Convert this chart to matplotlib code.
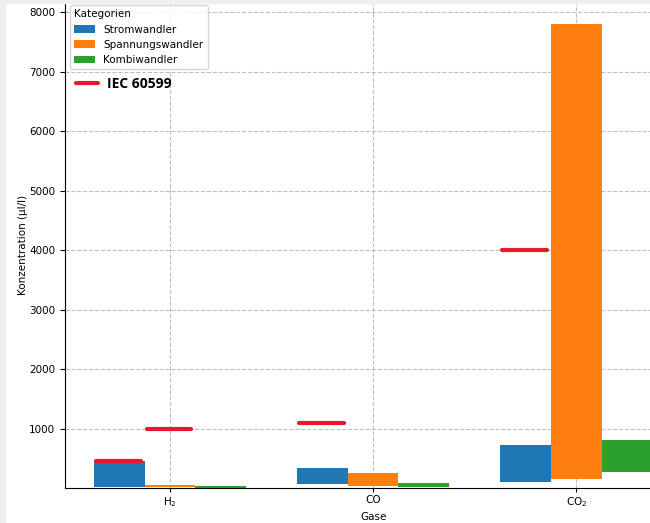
import numpy as np
import matplotlib
matplotlib.use("Agg")
import matplotlib.pyplot as plt
from matplotlib.lines import Line2D
from matplotlib.patches import Rectangle

# Gase und Messbereiche (von / bis) je Wandlertyp in µl/l
gase = ["H$_2$", "CO", "CO$_2$"]
kategorien = ["Stromwandler", "Spannungswandler", "Kombiwandler"]
farben = ["#1f77b4", "#ff7f0e", "#2ca02c"]

von = {
    "Stromwandler": [25, 65, 110],
    "Spannungswandler": [20, 35, 150],
    "Kombiwandler": [12, 18, 278],
}
bis = {
    "Stromwandler": [455, 334, 730],
    "Spannungswandler": [55, 260, 7800],
    "Kombiwandler": [38, 88, 810],
}

# Grenzwerte nach IEC 60599: (Gas-Index, Wandlertyp, Wert)
iec_gas = [0, 0, 1, 2]
iec_typ = ["Stromwandler", "Spannungswandler", "Stromwandler", "Stromwandler"]
iec_wert = [450, 1000, 1100, 4000]

iec_farbe = "#e8192c"

plt.rcParams["font.size"] = 7.5

fig = plt.figure(figsize=(6.5, 5.23), dpi=100)
ax = fig.add_axes([0.1, 0.0665, 0.948, 0.932])

x = np.arange(len(gase))
breite = 0.25

for i, kat in enumerate(kategorien):
    unten = np.array(von[kat])
    hoehe = np.array(bis[kat]) - unten
    ax.bar(x + (i - 1) * breite, hoehe, breite, bottom=unten,
           color=farben[i], label=kat, linewidth=0, zorder=2)

for g, typ, wert in zip(iec_gas, iec_typ, iec_wert):
    mitte = g + (kategorien.index(typ) - 1) * breite
    ax.hlines(wert, mitte - breite / 2 + 0.01, mitte + breite / 2 - 0.02,
              colors=iec_farbe, linewidth=3, zorder=3, capstyle="round")

ax.set_xticks(x)
ax.set_xticklabels(gase)
ax.set_yticks(np.arange(1000, 8001, 1000))
ax.set_xlim(-0.517, 2.517)
ax.set_ylim(0, 8190)
ax.tick_params(axis="x", length=3, pad=2)
ax.set_xlabel("Gase", labelpad=2)
ax.set_ylabel("Konzentration (µl/l)", labelpad=1)
ax.grid(True, linestyle="--", color="#b0b0b0", linewidth=0.8, alpha=0.8)
ax.set_axisbelow(True)
ax.spines["top"].set_visible(False)
ax.spines["right"].set_visible(False)

leg = ax.legend(title="Kategorien", loc="upper left",
                bbox_to_anchor=(0.0081, 0.991), borderaxespad=0,
                alignment="left", fontsize=7.5, title_fontsize=7.5)
ax.add_artist(leg)

iec_handle = Line2D([], [], color=iec_farbe, linewidth=3,
                    solid_capstyle="round")
ax.legend([iec_handle], ["IEC 60599"], loc="upper left",
          bbox_to_anchor=(0.0081, 0.855), borderaxespad=0, frameon=False,
          prop={"family": "Open Sans", "weight": "bold", "size": 10},
          handlelength=1.6, handletextpad=0.7)

# grauer Rand oben und links
fig.patches.append(Rectangle((0, 0), 5 / 650, 1, transform=fig.transFigure,
                             color="#efefef", zorder=10))
fig.patches.append(Rectangle((0, 1 - 3 / 523), 1, 3 / 523,
                             transform=fig.transFigure, color="#efefef",
                             zorder=10))

fig.savefig("out.png", dpi=100)
